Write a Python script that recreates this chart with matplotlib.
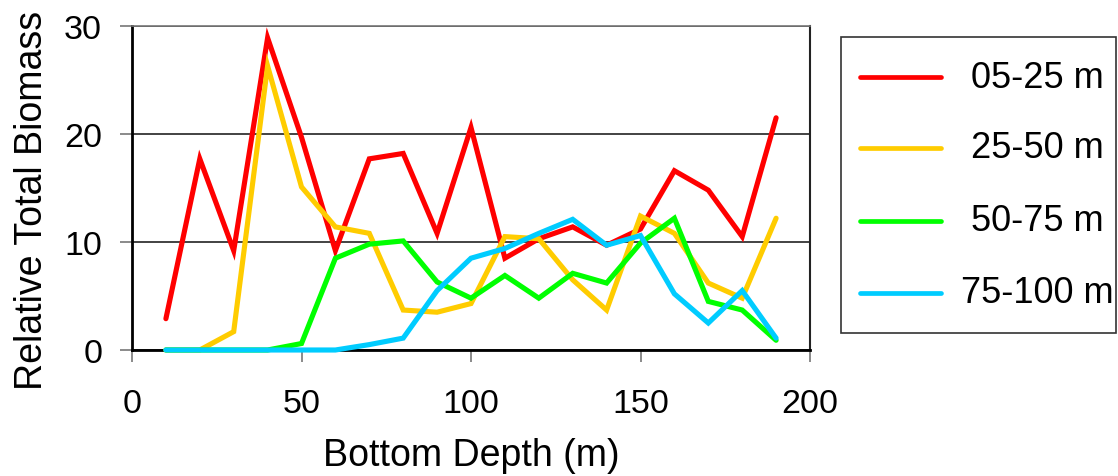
import matplotlib
matplotlib.use("Agg")
import matplotlib.pyplot as plt
from matplotlib.lines import Line2D
from matplotlib.patches import Rectangle

depth = [10, 20, 30, 40, 50, 60, 70, 80, 90, 100, 110, 120, 130, 140, 150, 160, 170, 180, 190]
s_05_25 = [2.9, 17.7, 9.2, 28.9, 19.7, 9.2, 17.7, 18.2, 10.8, 20.6, 8.5, 10.3, 11.4, 9.7, 11.2, 16.6, 14.8, 10.5, 21.5]
s_25_50 = [0, 0, 1.7, 26.3, 15.1, 11.4, 10.8, 3.7, 3.5, 4.3, 10.5, 10.3, 6.5, 3.7, 12.4, 10.8, 6.2, 4.8, 12.2]
s_50_75 = [0, 0, 0, 0, 0.6, 8.5, 9.8, 10.1, 6.3, 4.8, 6.9, 4.8, 7.1, 6.2, 9.9, 12.2, 4.5, 3.7, 0.9]
s_75_100 = [0, 0, 0, 0, 0, 0, 0.5, 1.1, 5.5, 8.5, 9.4, 10.8, 12.1, 9.7, 10.6, 5.2, 2.5, 5.5, 1.1]
labels = ["05-25 m", "25-50 m", "50-75 m", "75-100 m"]
colors = ["#FF0000", "#FFCC00", "#00FF00", "#00CCFF"]
xticks = [0, 50, 100, 150, 200]
yticks = [0, 10, 20, 30]

plt.rcParams['font.family'] = ['Liberation Sans', 'DejaVu Sans']

W, H = 1118, 477
fig = plt.figure(figsize=(W / 100, H / 100), dpi=100)
ax = fig.add_axes([132 / W, 1 - 351 / H, (810 - 132) / W, (351 - 27) / H])

for ys, lab, c in zip([s_05_25, s_25_50, s_50_75, s_75_100], labels, colors):
    ax.plot(depth, ys, color=c, lw=3.7, label=lab, solid_capstyle='round',
            solid_joinstyle='miter', zorder=3, clip_on=False)

ax.set_xlim(0, 200)
ax.set_ylim(0, 30)
ax.set_xticks(xticks)
ax.set_yticks(yticks)
ax.yaxis.grid(True, color='#222222', lw=1.2)
ax.set_axisbelow(True)
ax.tick_params(axis='x', direction='out', length=8.5, width=1.2, color='#777777', labelsize=24.5, pad=19)
ax.tick_params(axis='y', direction='out', length=8.5, width=1.2, color='#777777', labelsize=24.5, pad=13)
ax.spines['left'].set_linewidth(2.0)
ax.spines['left'].set_color('black')
ax.spines['bottom'].set_linewidth(2.0)
ax.spines['bottom'].set_color('black')
ax.spines['top'].set_color('#777777')
ax.spines['top'].set_linewidth(1.2)
ax.spines['right'].set_color('#222222')
ax.spines['right'].set_linewidth(1.5)
ax.set_xlabel("Bottom Depth (m)", fontsize=27, labelpad=13)
ax.set_ylabel("Relative Total Biomass", fontsize=27)
ax.yaxis.set_label_coords((50 - 132) / 678, (351 - 200) / 324)

# legend (drawn in figure pixel coordinates)
def fx(px):
    return px / W

def fy(py):
    return 1 - py / H

fig.add_artist(Rectangle((fx(841), fy(334)), fx(1116) - fx(841), fy(38) - fy(334),
                         transform=fig.transFigure, facecolor='white',
                         edgecolor='#333333', lw=1.2))
row_y = [78, 149, 222, 294]
for lab, c, ry in zip(labels, colors, row_y):
    fig.add_artist(Line2D([fx(860), fx(941)], [fy(ry), fy(ry)], transform=fig.transFigure,
                          color=c, lw=3.4, solid_capstyle='round'))
    fig.text(fx(1037), fy(ry), lab, ha='center', va='center', fontsize=26)

fig.savefig("out.png", dpi=100)
